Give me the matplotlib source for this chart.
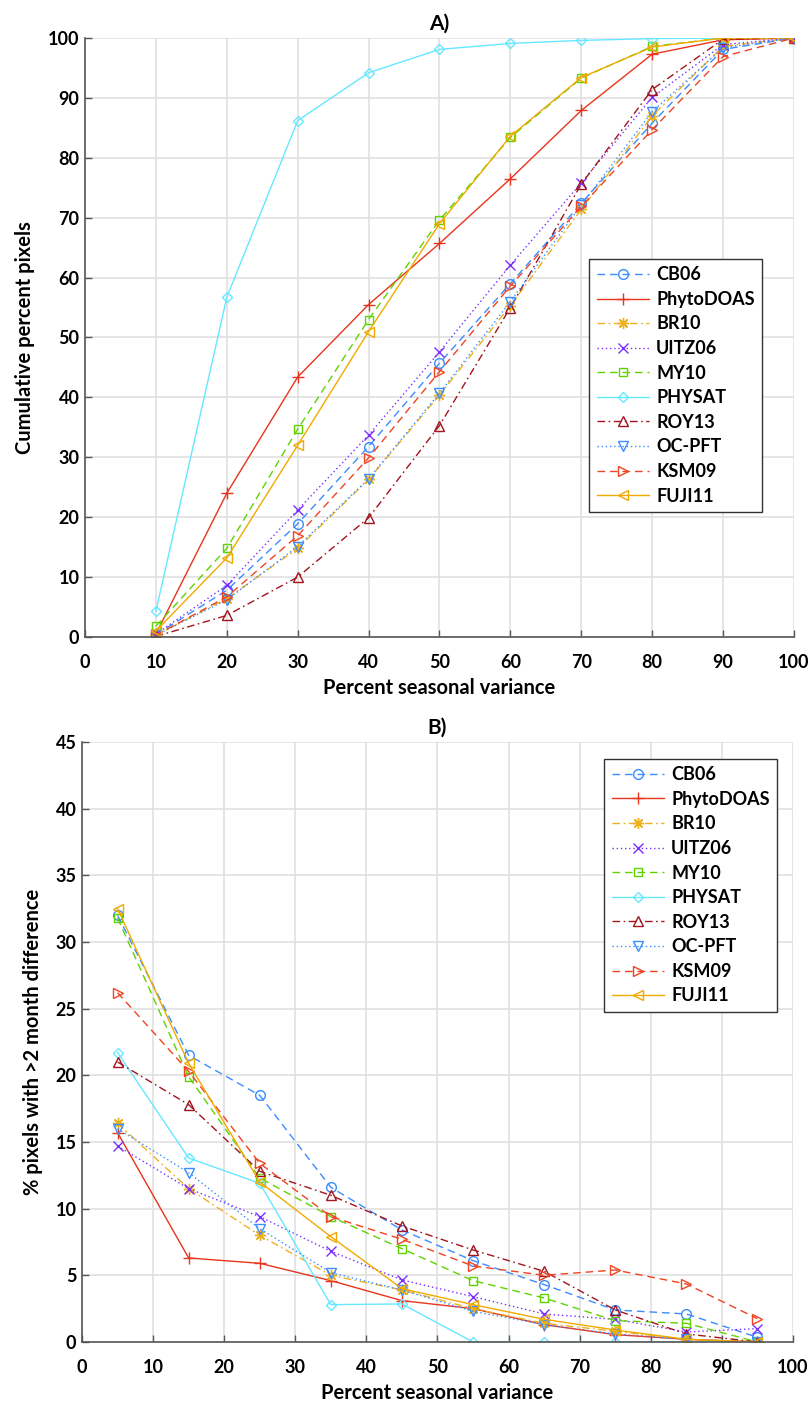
import numpy as np
import matplotlib
matplotlib.use("Agg")
import matplotlib.pyplot as plt

plt.rcParams['font.family'] = ['Lato', 'DejaVu Sans']
plt.rcParams['font.weight'] = 'bold'

names = ["CB06", "PhytoDOAS", "BR10", "UITZ06", "MY10", "PHYSAT", "ROY13", "OC-PFT", "KSM09", "FUJI11"]

# A) cumulative percent of pixels vs percent seasonal variance
var_a = [10, 20, 30, 40, 50, 60, 70, 80, 90, 100]
cum_cb06 = [0.4, 7.8, 18.9, 31.8, 45.7, 59.0, 72.4, 85.8, 98.1, 100]
cum_phyto = [0.5, 24.0, 43.4, 55.5, 65.7, 76.5, 87.9, 97.3, 99.7, 100]
cum_br10 = [0.3, 6.4, 14.8, 26.3, 40.4, 55.3, 71.4, 87.0, 98.6, 100]
cum_uitz06 = [0.5, 8.6, 21.2, 33.7, 47.6, 62.1, 75.8, 90.1, 98.9, 100]
cum_my10 = [1.8, 14.8, 34.7, 53.0, 69.6, 83.4, 93.3, 98.6, 100, 100]
cum_physat = [4.3, 56.7, 86.2, 94.2, 98.1, 99.1, 99.6, 99.9, 100, 100]
cum_roy13 = [0.1, 3.6, 10.0, 19.9, 35.3, 55.0, 75.6, 91.4, 99.8, 100]
cum_ocpft = [0.3, 6.2, 15.1, 26.4, 40.7, 56.0, 72.1, 87.7, 98.4, 100]
cum_ksm09 = [0.3, 6.7, 16.9, 29.9, 44.3, 58.6, 71.9, 84.7, 96.9, 100]
cum_fuji11 = [1.0, 13.2, 32.0, 51.0, 69.0, 83.6, 93.4, 98.5, 100, 100]

# B) % pixels with >2 month difference in timing
var_b = [5, 15, 25, 35, 45, 55, 65, 75, 85, 95]
diff_cb06 = [32.0, 21.5, 18.5, 11.6, 8.4, 6.1, 4.3, 2.4, 2.1, 0.35]
diff_phyto = [15.7, 6.3, 5.9, 4.6, 3.1, 2.5, 1.3, 0.55, 0.2, 0.0]
diff_br10 = [16.4, 11.5, 8.0, 5.0, 3.9, 2.5, 1.4, 0.8, 0.2, 0.0]
diff_uitz06 = [14.7, 11.5, 9.4, 6.8, 4.65, 3.4, 2.1, 1.7, 0.75, 1.0]
diff_my10 = [31.8, 19.9, 12.3, 9.4, 7.0, 4.6, 3.3, 1.6, 1.4, 0.0]
diff_physat = [21.7, 13.8, 11.9, 2.8, 2.85, 0.0, 0.0, 0.0, 0.0, 0.0]
diff_roy13 = [21.0, 17.8, 12.8, 11.0, 8.7, 6.9, 5.3, 2.4, 0.6, 0.0]
diff_ocpft = [16.0, 12.7, 8.5, 5.2, 3.9, 2.3, 1.3, 0.6, 0.2, 0.0]
diff_ksm09 = [26.2, 20.3, 13.4, 9.4, 7.7, 5.7, 5.0, 5.4, 4.35, 1.75]
diff_fuji11 = [32.5, 20.9, 12.0, 7.9, 4.0, 2.8, 1.7, 0.9, 0.2, 0.0]

cum = [cum_cb06, cum_phyto, cum_br10, cum_uitz06, cum_my10, cum_physat,
       cum_roy13, cum_ocpft, cum_ksm09, cum_fuji11]
diff = [diff_cb06, diff_phyto, diff_br10, diff_uitz06, diff_my10, diff_physat,
        diff_roy13, diff_ocpft, diff_ksm09, diff_fuji11]

dash = (0, (5.5, 3.5))
dashdot = (0, (5.5, 2.5, 1.2, 2.5))
dot = (0, (1, 2))
asterisk = (8, 2, 0)
styles = [
    dict(color="#3b8cff", ls=dash, marker="o", ms=7),
    dict(color="#e8341c", ls="-", marker="+", ms=9),
    dict(color="#edb120", ls=dashdot, marker=asterisk, ms=8),
    dict(color="#7b2fff", ls=dot, marker="x", ms=7),
    dict(color="#5fd400", ls=dash, marker="s", ms=6),
    dict(color="#66e8ff", ls="-", marker="D", ms=5.5),
    dict(color="#a2141e", ls=dashdot, marker="^", ms=7),
    dict(color="#3b8cff", ls=dot, marker="v", ms=7),
    dict(color="#ee4422", ls=dash, marker=">", ms=7),
    dict(color="#f0aa00", ls="-", marker="<", ms=7),
]


def draw(ax, x, ys, ylim, ystep, title, ylabel, leg_anchor):
    for name, y, st in zip(names, ys, styles):
        ax.plot(x, y, color=st["color"], ls=st["ls"], marker=st["marker"],
                mfc="none", mec=st["color"], ms=st["ms"], mew=1.0, lw=1.0, label=name)
    ax.set_xlim(0, 100)
    ax.set_ylim(0, ylim)
    ax.set_xticks(np.arange(0, 101, 10))
    ax.set_yticks(np.arange(0, ylim + 0.1, ystep))
    ax.grid(True, color="#e0e0e0", lw=1.2)
    ax.set_axisbelow(True)
    for s in ("top", "right"):
        ax.spines[s].set_visible(False)
    for s in ("left", "bottom"):
        ax.spines[s].set_color("#555555")
        ax.spines[s].set_linewidth(1.2)
    ax.tick_params(direction="in", length=5, width=1, color="#555555", labelsize=13)
    ax.tick_params(axis="x", pad=12)
    ax.tick_params(axis="y", pad=4)
    for lab in ax.get_xticklabels() + ax.get_yticklabels():
        lab.set_fontweight("bold")
    ax.set_title(title, fontsize=15, fontweight="bold", pad=6)
    ax.set_xlabel("Percent seasonal variance", fontsize=14.5, fontweight="bold", labelpad=5)
    ax.set_ylabel(ylabel, fontsize=14.5, fontweight="bold", labelpad=9)
    leg = ax.legend(loc="upper right", bbox_to_anchor=leg_anchor,
                    fancybox=False, framealpha=1, edgecolor="#333333",
                    prop=dict(weight="bold", size=13), handlelength=2.9,
                    borderpad=0.4, labelspacing=0.42, handletextpad=0.4,
                    borderaxespad=0)
    leg.get_frame().set_linewidth(1.0)


fig = plt.figure(figsize=(8.11, 14.08), dpi=100)
ax1 = fig.add_axes([0.1048, 0.5476, 0.8742, 0.4254])
ax2 = fig.add_axes([0.1011, 0.0469, 0.8767, 0.4261])

draw(ax1, var_a, cum, 100, 10, "A)", "Cumulative percent pixels", (0.955, 0.631))
draw(ax2, var_b, diff, 45, 5, "B)", "% pixels with >2 month difference", (0.9775, 0.9717))

fig.savefig("out.png", dpi=100)
